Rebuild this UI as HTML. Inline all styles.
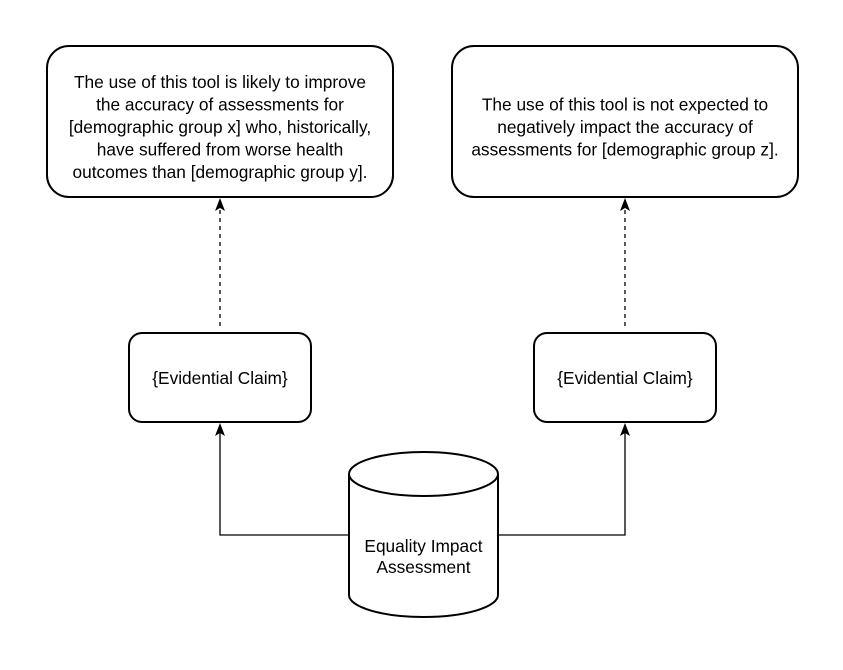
<!DOCTYPE html>
<html><head><style>body{margin:0;background:#fff}</style></head><body>
<svg width="843" height="665" xmlns="http://www.w3.org/2000/svg" font-family="Liberation Sans, Helvetica, sans-serif" font-size="17.3" fill="#000">
<rect x="0" y="0" width="843" height="665" fill="#fff"/>
<rect x="47" y="46" width="346" height="151" rx="22" fill="#fff" stroke="#000" stroke-width="2"/>
<rect x="452" y="46" width="346" height="151" rx="22" fill="#fff" stroke="#000" stroke-width="2"/>
<g text-anchor="middle">
<text x="220" y="88">The use of this tool is likely to improve</text>
<text x="220" y="110.5">the accuracy of assessments for</text>
<text x="220" y="133">[demographic group x] who, historically,</text>
<text x="220" y="155.5">have suffered from worse health</text>
<text x="220" y="178">outcomes than [demographic group y].</text>
<text x="625" y="110.5">The use of this tool is not expected to</text>
<text x="625" y="133">negatively impact the accuracy of</text>
<text x="625" y="155.5">assessments for [demographic group z].</text>
</g>
<rect x="129" y="333" width="182" height="89" rx="13" fill="#fff" stroke="#000" stroke-width="2"/>
<rect x="534" y="333" width="182" height="89" rx="13" fill="#fff" stroke="#000" stroke-width="2"/>
<text x="220" y="384" text-anchor="middle">{Evidential Claim}</text>
<text x="625" y="384" text-anchor="middle">{Evidential Claim}</text>
<g stroke="#000" stroke-width="1.3" fill="none">
<line x1="220" y1="326" x2="220" y2="208" stroke-dasharray="4 4"/>
<line x1="625" y1="326" x2="625" y2="208" stroke-dasharray="4 4"/>
<polyline points="349,535 220,535 220,433"/>
<polyline points="498,535 625,535 625,433"/>
</g>
<g fill="#000">
<path d="M220 198 L225 211 L220 208 L215 211 Z"/>
<path d="M625 198 L630 211 L625 208 L620 211 Z"/>
<path d="M220 423 L225 436 L220 433 L215 436 Z"/>
<path d="M625 423 L630 436 L625 433 L620 436 Z"/>
</g>
<path d="M349 474 L349 595 A74.5 22 0 0 0 498 595 L498 474 A74.5 22 0 0 0 349 474 Z" fill="#fff" stroke="#000" stroke-width="2"/>
<path d="M349 474 A74.5 22 0 0 0 498 474" fill="none" stroke="#000" stroke-width="2"/>
<text x="423.5" y="552" text-anchor="middle">Equality Impact</text>
<text x="423.5" y="573" text-anchor="middle">Assessment</text>
</svg>
</body></html>
